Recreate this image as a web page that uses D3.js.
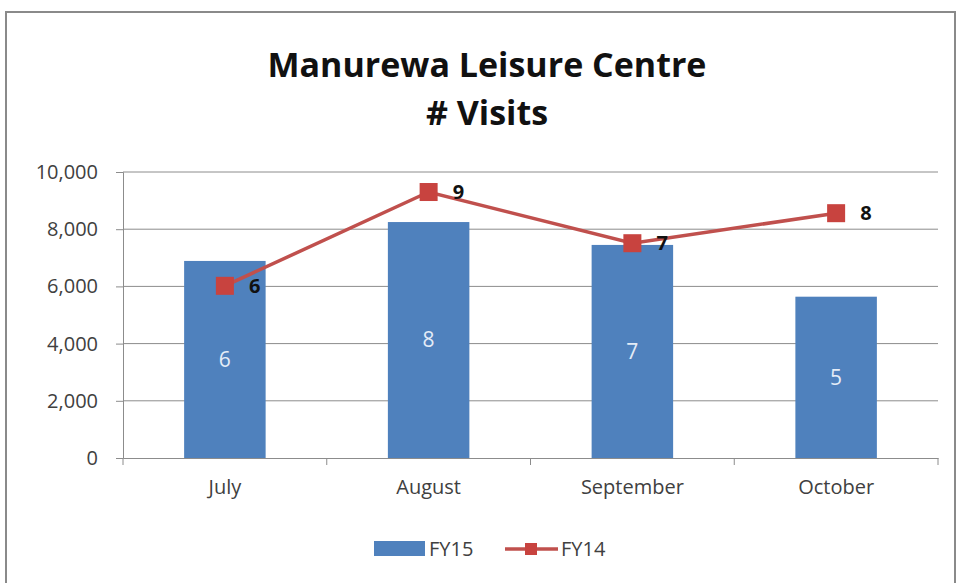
<!DOCTYPE html>
<html>
<head>
<meta charset="utf-8">
<script src="https://cdn.jsdelivr.net/npm/d3@7"></script>
<style>
  html, body { margin: 0; padding: 0; background: #fff; }
  #chart { width: 957px; height: 583px; }
  text { font-family: "Open Sans", "Noto Sans", sans-serif; }
</style>
</head>
<body>
<div id="chart"></div>
<script>
// data
const months = ["July", "August", "September", "October"];
const fy15 = [6890, 8250, 7450, 5640];
const fy14 = [6020, 9300, 7510, 8560];
const fy15Labels = ["6", "8", "7", "5"];
const fy14Labels = ["6", "9", "7", "8"];
const yTicks = [0, 2000, 4000, 6000, 8000, 10000];
const titleLines = ["Manurewa Leisure Centre", "# Visits"];

function drawChart() {
    const width = 957, height = 583;
    const margin = { top: 172, right: 19, bottom: 125, left: 123 };
    const w = width - margin.left - margin.right;
    const h = height - margin.top - margin.bottom;

    const svg = d3.select("#chart").append("svg")
        .attr("width", width)
        .attr("height", height);

    // outer frame (bottom runs off the picture)
    svg.append("rect")
        .attr("x", 6).attr("y", 12)
        .attr("width", 949).attr("height", 600)
        .attr("fill", "#fff")
        .attr("stroke", "#8a8a8a")
        .attr("stroke-width", 2);

    svg.selectAll(".title")
        .data(titleLines)
        .enter().append("text")
        .attr("class", "title")
        .attr("x", 487)
        .attr("y", (d, i) => 77 + i * 48)
        .attr("text-anchor", "middle")
        .style("font-size", "34px")
        .style("font-weight", "bold")
        .style("fill", "#111")
        .text(d => d);

    const g = svg.append("g")
        .attr("transform", `translate(${margin.left},${margin.top})`);

    const x = d3.scaleBand().domain(months).range([0, w]).padding(0);
    const y = d3.scaleLinear().domain([0, 10000]).range([h, 0]);
    const barW = x.bandwidth() * 0.4;

    // gridlines
    g.selectAll(".grid")
        .data(yTicks.filter(d => d > 0))
        .enter().append("line")
        .attr("class", "grid")
        .attr("x1", 0).attr("x2", w)
        .attr("y1", d => y(d)).attr("y2", d => y(d))
        .attr("stroke", "#8c8c8c")
        .attr("stroke-width", 1);

    // y axis
    const yAxis = g.append("g")
        .call(d3.axisLeft(y).tickValues(yTicks).tickFormat(d3.format(",")).tickSize(7).tickPadding(18));
    yAxis.select(".domain").attr("stroke", "#8c8c8c");
    yAxis.selectAll(".tick line").attr("stroke", "#8c8c8c");
    yAxis.selectAll("text")
        .style("font-size", "20px")
        .style("fill", "#404040");

    // x axis
    const xAxis = g.append("g")
        .attr("transform", `translate(0,${h})`)
        .call(d3.axisBottom(x).tickSize(0).tickPadding(22));
    xAxis.select(".domain").attr("stroke", "#8c8c8c");
    xAxis.selectAll("text")
        .style("font-size", "20px")
        .style("fill", "#404040");
    // category boundary ticks
    g.selectAll(".xtick")
        .data(months.map(m => x(m)).concat([w]))
        .enter().append("line")
        .attr("class", "xtick")
        .attr("x1", d => d).attr("x2", d => d)
        .attr("y1", h).attr("y2", h + 7)
        .attr("stroke", "#8c8c8c");

    // bars
    g.selectAll(".bar")
        .data(months)
        .enter().append("rect")
        .attr("class", "bar")
        .attr("x", (d) => x(d) + (x.bandwidth() - barW) / 2)
        .attr("width", barW)
        .attr("y", (d, i) => y(fy15[i]))
        .attr("height", (d, i) => h - y(fy15[i]))
        .attr("fill", "#4f81bd");

    g.selectAll(".barlabel")
        .data(months)
        .enter().append("text")
        .attr("class", "barlabel")
        .attr("x", d => x(d) + x.bandwidth() / 2)
        .attr("y", (d, i) => (y(fy15[i]) + h) / 2)
        .attr("dy", "0.35em")
        .attr("text-anchor", "middle")
        .style("font-size", "21px")
        .style("fill", "#e4ecf7")
        .text((d, i) => fy15Labels[i]);

    // line
    const line = d3.line()
        .x((d, i) => x(months[i]) + x.bandwidth() / 2)
        .y(d => y(d));

    g.append("path")
        .datum(fy14)
        .attr("d", line)
        .attr("fill", "none")
        .attr("stroke", "#c0504d")
        .attr("stroke-width", 3.5);

    const mk = 18;
    g.selectAll(".marker")
        .data(fy14)
        .enter().append("rect")
        .attr("class", "marker")
        .attr("x", (d, i) => x(months[i]) + x.bandwidth() / 2 - mk / 2)
        .attr("y", d => y(d) - mk / 2)
        .attr("width", mk).attr("height", mk)
        .attr("fill", "#c8433f");

    g.selectAll(".linelabel")
        .data(fy14)
        .enter().append("text")
        .attr("class", "linelabel")
        .attr("x", (d, i) => x(months[i]) + x.bandwidth() / 2 + 24)
        .attr("y", d => y(d))
        .attr("dy", "0.35em")
        .style("font-size", "20px")
        .style("font-weight", "bold")
        .style("fill", "#111")
        .text((d, i) => fy14Labels[i]);

    // legend
    const leg = svg.append("g").attr("transform", "translate(0,549)");
    leg.append("rect")
        .attr("x", 374).attr("y", -8)
        .attr("width", 51).attr("height", 15)
        .attr("fill", "#4f81bd");
    leg.append("text")
        .attr("x", 429).attr("y", 0).attr("dy", "0.35em")
        .style("font-size", "20px").style("fill", "#404040")
        .text("FY15");
    leg.append("line")
        .attr("x1", 505).attr("x2", 558)
        .attr("y1", 0).attr("y2", 0)
        .attr("stroke", "#c0504d").attr("stroke-width", 3.5);
    leg.append("rect")
        .attr("x", 525).attr("y", -6)
        .attr("width", 12).attr("height", 12)
        .attr("fill", "#c8433f");
    leg.append("text")
        .attr("x", 561).attr("y", 0).attr("dy", "0.35em")
        .style("font-size", "20px").style("fill", "#404040")
        .text("FY14");
}

drawChart();
</script>
</body>
</html>
